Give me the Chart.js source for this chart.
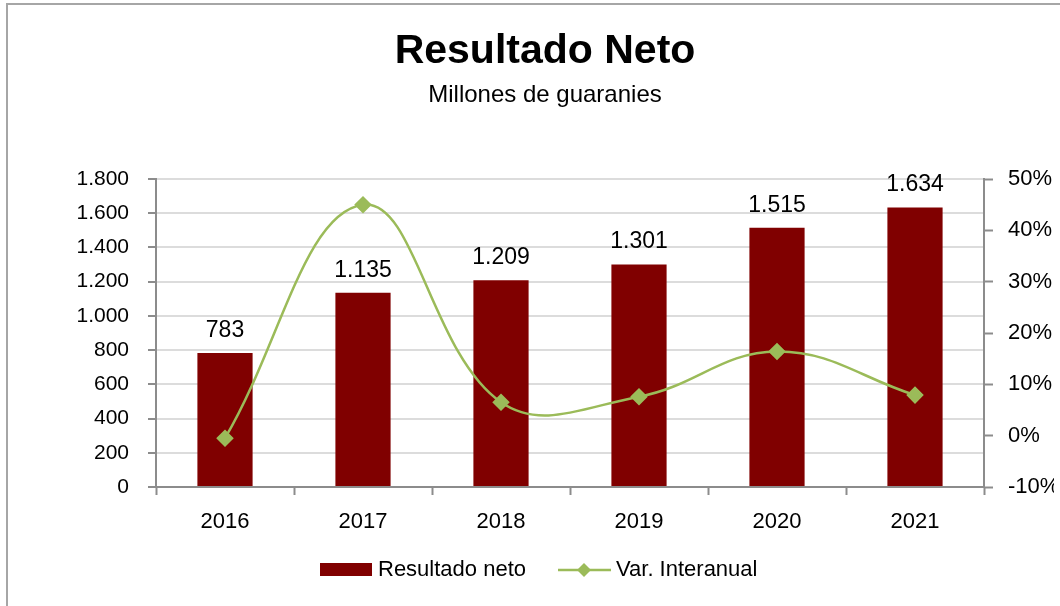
<!DOCTYPE html>
<html>
<head>
<meta charset="utf-8">
<script src="https://cdn.jsdelivr.net/npm/chart.js@4/dist/chart.umd.min.js"></script>
<style>
  html, body { margin: 0; padding: 0; background: #fff; overflow: hidden; }
  #wrap { position: relative; width: 1060px; height: 606px; }
  #frame { position: absolute; left: 6px; top: 3px; width: 1100px; height: 700px;
           border-left: 2px solid #a6a6a6; border-top: 2px solid #a6a6a6; pointer-events: none; }
</style>
</head>
<body>
<div id="wrap">
  <canvas id="chart" width="1060" height="606"></canvas>
  <div id="frame"></div>
</div>
<script>
const years = ['2016', '2017', '2018', '2019', '2020', '2021'];
const resultadoNeto = [783, 1135, 1209, 1301, 1515, 1634];
const varInteranual = [-0.5, 45.0, 6.5, 7.6, 16.4, 7.9];

const FONT = '"Liberation Sans", Arial, sans-serif';
const BAR_COLOR = '#800000';
const LINE_COLOR = '#9bbb59';
const AXIS_COLOR = '#8c8c8c';
const GRID_COLOR = '#dcdcdc';

const fmtMiles = (v) => {
  const s = Math.round(v).toString();
  return s.replace(/\B(?=(\d{3})+(?!\d))/g, '.');
};

// labels over the bars
const barLabels = {
  id: 'barLabels',
  afterDatasetsDraw(chart) {
    const ctx = chart.ctx;
    const meta = chart.getDatasetMeta(1);
    ctx.save();
    ctx.font = '23px ' + FONT;
    ctx.fillStyle = '#000';
    ctx.textAlign = 'center';
    ctx.textBaseline = 'alphabetic';
    meta.data.forEach((bar, i) => {
      ctx.fillText(fmtMiles(resultadoNeto[i]), bar.x, bar.y - 16);
    });
    ctx.restore();
  }
};

// legend like the excel one: box + line with diamond
const bottomLegend = {
  id: 'bottomLegend',
  afterDraw(chart) {
    const ctx = chart.ctx;
    const y = 570;
    ctx.save();
    ctx.fillStyle = BAR_COLOR;
    ctx.fillRect(320, 563, 52, 13);
    ctx.font = '22px ' + FONT;
    ctx.fillStyle = '#000';
    ctx.textBaseline = 'middle';
    ctx.fillText('Resultado neto', 378, y);

    ctx.strokeStyle = LINE_COLOR;
    ctx.lineWidth = 2.5;
    ctx.beginPath();
    ctx.moveTo(558, y);
    ctx.lineTo(611, y);
    ctx.stroke();
    ctx.fillStyle = LINE_COLOR;
    ctx.beginPath();
    ctx.moveTo(584, y - 7);
    ctx.lineTo(591, y);
    ctx.lineTo(584, y + 7);
    ctx.lineTo(577, y);
    ctx.closePath();
    ctx.fill();
    ctx.fillStyle = '#000';
    ctx.fillText('Var. Interanual', 616, y);
    ctx.restore();
  }
};

const bgWhite = {
  id: 'bgWhite',
  beforeDraw(chart) {
    const ctx = chart.ctx;
    ctx.save();
    ctx.fillStyle = '#fff';
    ctx.fillRect(0, 0, chart.width, chart.height);
    ctx.restore();
  }
};

new Chart(document.getElementById('chart'), {
  data: {
    labels: years,
    datasets: [
      {
        type: 'line',
        label: 'Var. Interanual',
        data: varInteranual,
        yAxisID: 'y1',
        borderColor: LINE_COLOR,
        backgroundColor: LINE_COLOR,
        borderWidth: 2.5,
        tension: 0.4,
        pointStyle: 'rectRot',
        pointRadius: 7,
        pointHoverRadius: 7,
        order: 0
      },
      {
        type: 'bar',
        label: 'Resultado neto',
        data: resultadoNeto,
        yAxisID: 'y',
        backgroundColor: BAR_COLOR,
        barPercentage: 0.4,
        categoryPercentage: 1.0,
        order: 1
      }
    ]
  },
  options: {
    responsive: false,
    animation: false,
    events: [],
    layout: { padding: { left: 36, right: 6, top: 0, bottom: 59 } },
    plugins: {
      legend: { display: false },
      tooltip: { enabled: false },
      title: {
        display: true,
        text: 'Resultado Neto',
        color: '#000',
        font: { family: FONT, size: 41, weight: 'bold', lineHeight: 1.2 },
        padding: { top: 27, bottom: 5 }
      },
      subtitle: {
        display: true,
        text: 'Millones de guaranies',
        color: '#000',
        font: { family: FONT, size: 24, lineHeight: 1.2 },
        padding: { top: 0, bottom: 69 }
      }
    },
    scales: {
      x: {
        offset: true,
        grid: {
          offset: true,
          drawOnChartArea: false,
          tickLength: 8,
          tickWidth: 2,
          tickColor: AXIS_COLOR
        },
        border: { color: AXIS_COLOR, width: 2 },
        ticks: { color: '#000', padding: 14, font: { family: FONT, size: 22 } },
        afterFit(scale) { scale.height = 60; }
      },
      y: {
        position: 'left',
        min: 0,
        max: 1800,
        grid: {
          color: GRID_COLOR,
          lineWidth: 2,
          tickLength: 8,
          tickWidth: 2,
          tickColor: AXIS_COLOR
        },
        border: { color: AXIS_COLOR, width: 2 },
        ticks: {
          stepSize: 200,
          color: '#000',
          padding: 19,
          font: { family: FONT, size: 21 },
          callback: (v) => fmtMiles(v)
        },
        afterFit(scale) { scale.width = 120; }
      },
      y1: {
        position: 'right',
        min: -10,
        max: 50,
        grid: {
          drawOnChartArea: false,
          tickLength: 9,
          tickWidth: 2,
          tickColor: AXIS_COLOR
        },
        border: { color: AXIS_COLOR, width: 2 },
        ticks: {
          stepSize: 10,
          color: '#000',
          padding: 15,
          font: { family: FONT, size: 22 },
          callback: (v) => v + '%'
        },
        afterFit(scale) { scale.width = 70; }
      }
    }
  },
  plugins: [bgWhite, barLabels, bottomLegend]
});
</script>
</body>
</html>
